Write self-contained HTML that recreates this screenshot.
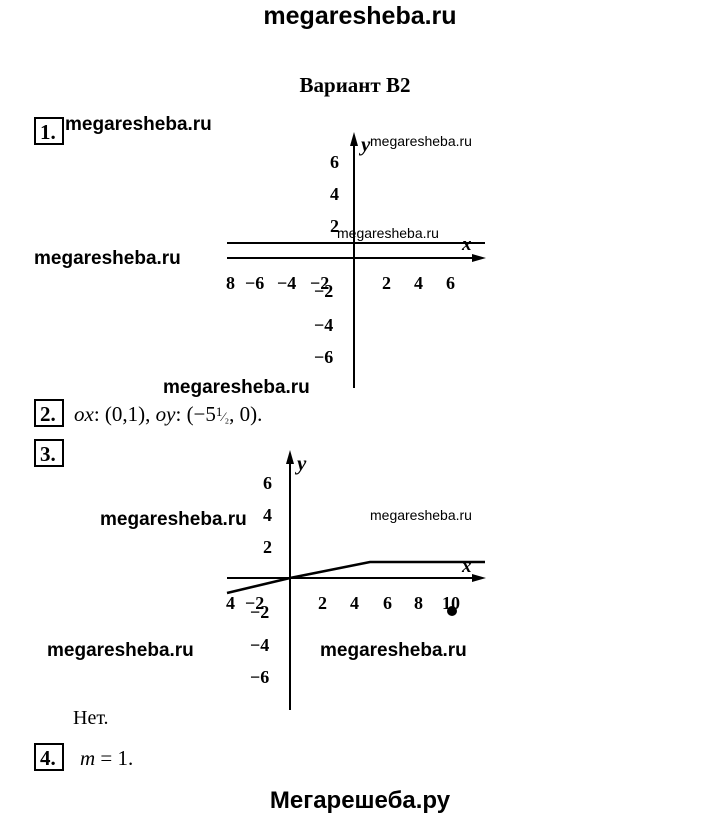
<!DOCTYPE html>
<html><head><meta charset="utf-8"><style>
body{margin:0;background:#fff;width:720px;height:818px;overflow:hidden}
svg{display:block}
.b{font-family:"Liberation Sans",sans-serif;font-weight:bold}
.s{font-family:"Liberation Serif",serif}
</style></head><body>
<svg width="720" height="818" viewBox="0 0 720 818">
<text x="360" y="24" text-anchor="middle" class="b" font-size="25">megaresheba.ru</text>
<text x="355" y="92" text-anchor="middle" class="s" font-weight="bold" font-size="21">Вариант В2</text>
<!-- 1 -->
<rect x="35" y="118" width="28" height="26" fill="none" stroke="#000" stroke-width="2"/>
<text x="40" y="139" class="s" font-weight="bold" font-size="21">1.</text>
<text x="65" y="130" class="b" font-size="19">megaresheba.ru</text>
<text x="34" y="264" class="b" font-size="19">megaresheba.ru</text>
<g stroke="#000" stroke-width="2" fill="none">
<line x1="354" y1="388" x2="354" y2="140"/>
<line x1="227" y1="258" x2="478" y2="258"/>
<line x1="227" y1="243" x2="485" y2="243"/>
</g>
<path d="M350,146 L354,132 L358,146 Z" fill="#000"/>
<path d="M472,254 L486,258 L472,262 Z" fill="#000"/>
<g class="s" font-size="18" font-weight="bold">
<text x="361" y="151" font-style="italic" font-size="21">y</text>
<text x="370" y="146" font-family="Liberation Sans" font-weight="normal" font-size="14">megaresheba.ru</text>
<text x="330" y="168">6</text><text x="330" y="200">4</text><text x="330" y="232">2</text>
<text x="337" y="238" font-family="Liberation Sans" font-weight="normal" font-size="14">megaresheba.ru</text>
<text x="462" y="250" font-style="italic" font-size="19">x</text>
<text x="226" y="289">8</text><text x="245" y="289">−6</text><text x="277" y="289">−4</text><text x="310" y="289">−2</text>
<text x="382" y="289">2</text><text x="414" y="289">4</text><text x="446" y="289">6</text>
<text x="314" y="297">−2</text><text x="314" y="331">−4</text><text x="314" y="363">−6</text>
</g>
<text x="163" y="393" class="b" font-size="19">megaresheba.ru</text>
<!-- 2 -->
<rect x="35" y="400" width="28" height="26" fill="none" stroke="#000" stroke-width="2"/>
<text x="40" y="421" class="s" font-weight="bold" font-size="21">2.</text>
<text x="74" y="421" class="s" font-size="21"><tspan font-style="italic">ox</tspan>: (0,1), <tspan font-style="italic">oy</tspan>: (−5<tspan font-size="13" dy="-5">1</tspan><tspan font-size="13" dy="5">⁄₂</tspan>, 0).</text>
<!-- 3 -->
<rect x="35" y="440" width="28" height="26" fill="none" stroke="#000" stroke-width="2"/>
<text x="40" y="461" class="s" font-weight="bold" font-size="21">3.</text>
<g stroke="#000" stroke-width="2" fill="none">
<line x1="290" y1="710" x2="290" y2="458"/>
<line x1="227" y1="578" x2="478" y2="578"/>
<path d="M227,593 L290,578 L370,562 L485,562" stroke-width="2.5"/>
</g>
<path d="M286,464 L290,450 L294,464 Z" fill="#000"/>
<path d="M472,574 L486,578 L472,582 Z" fill="#000"/>
<circle cx="452" cy="611" r="5" fill="#000"/>
<g class="s" font-size="18" font-weight="bold">
<text x="297" y="470" font-style="italic" font-size="21">y</text>
<text x="263" y="489">6</text><text x="263" y="521">4</text><text x="263" y="553">2</text>
<text x="462" y="572" font-style="italic" font-size="19">x</text>
<text x="226" y="609">4</text><text x="245" y="609">−2</text>
<text x="318" y="609">2</text><text x="350" y="609">4</text><text x="383" y="609">6</text><text x="414" y="609">8</text><text x="442" y="609">10</text>
<text x="250" y="618">−2</text><text x="250" y="651">−4</text><text x="250" y="683">−6</text>
</g>
<text x="370" y="520" font-family="Liberation Sans" font-size="14">megaresheba.ru</text>
<text x="100" y="525" class="b" font-size="19">megaresheba.ru</text>
<text x="47" y="656" class="b" font-size="19">megaresheba.ru</text>
<text x="320" y="656" class="b" font-size="19">megaresheba.ru</text>
<text x="73" y="724" class="s" font-size="20">Нет.</text>
<!-- 4 -->
<rect x="35" y="744" width="28" height="26" fill="none" stroke="#000" stroke-width="2"/>
<text x="40" y="765" class="s" font-weight="bold" font-size="21">4.</text>
<text x="80" y="765" class="s" font-size="21"><tspan font-style="italic">m</tspan> = 1.</text>
<text x="360" y="808" text-anchor="middle" class="b" font-size="24">Мегарешеба.ру</text>
</svg>
</body></html>
